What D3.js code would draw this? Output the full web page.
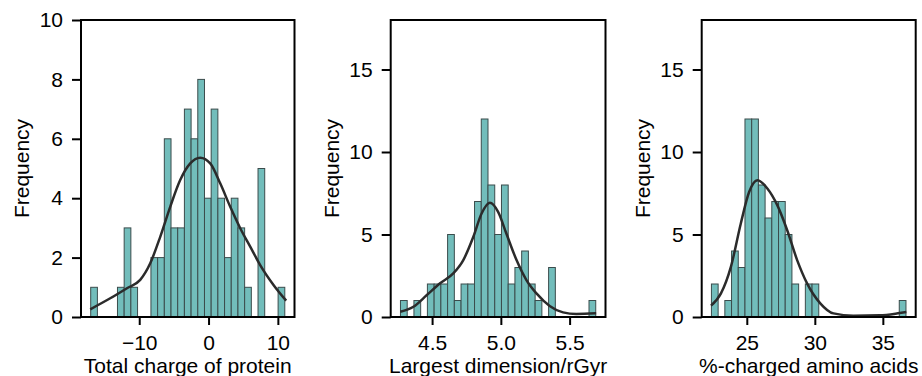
<!DOCTYPE html>
<html>
<head>
<meta charset="utf-8">
<script src="https://cdn.jsdelivr.net/npm/d3@7"></script>
<style>
  body { margin: 0; background: #fff; }
  text { font-family: "Liberation Sans", Arial, sans-serif; fill: #000; }
</style>
</head>
<body>
<div id="chart"></div>
<script>
// histogram counts (29 bins per panel), bins run from lo to hi
const chargeCounts = [1,0,0,0,1,3,1,0,0,2,2,6,3,3,7,6,8,4,7,4,2,4,3,1,0,5,0,0,1]
const chargeRange = [-17, 11]
const dimCounts = [1,0,1,0,2,2,2,5,1,2,2,7,12,8,5,8,2,3,4,2,1,0,3,0,0,0,0,0,1]
const dimRange = [4.27, 5.69]
const pctCounts = [2,0,1,4,3,12,12,8,6,7,7,5,2,0,2,2,0,0,0,0,0,0,0,0,0,0,0,0,1]
const pctRange = [22.4, 36.7]

// kde curves: [x, density scaled to counts]
const chargeKde = [[-17.07,0.26],[-14.18,0.63],[-11.77,0.97],[-9.86,1.25],[-8.41,1.81],[-6.97,2.70],
  [-5.53,3.71],[-4.09,4.61],[-2.64,5.17],[-1.2,5.36],[0.24,5.17],[1.68,4.50],[3.13,3.71],
  [4.57,2.99],[6.01,2.37],[7.45,1.75],[9.37,1.08],[11.2,0.55]]
const dimKde = [[4.268,0.32],[4.364,0.62],[4.462,1.33],[4.558,2.04],[4.654,2.64],[4.727,3.45],
  [4.8,4.86],[4.86,6.27],[4.92,6.92],[4.98,6.37],[5.04,5.06],[5.114,3.45],[5.186,2.24],
  [5.259,1.43],[5.355,0.67],[5.452,0.28],[5.549,0.18],[5.693,0.22]]
const pctKde = [[22.37,0.69],[23.10,1.43],[23.83,3.04],[24.56,5.67],[25.17,7.58],[25.78,8.29],
  [26.51,7.79],[27.24,6.78],[27.97,5.26],[28.70,3.45],[29.43,2.04],[30.40,0.83],[31.37,0.22],
  [32.83,0.08],[34.78,0.10],[36.24,0.24],[36.73,0.30]]

const xLabels = ["Total charge of protein", "Largest dimension/rGyr", "%-charged amino acids"]
const yLabel = "Frequency"
const chargeXTicks = [-10, 0, 10]
const dimXTicks = [4.5, 5.0, 5.5]
const pctXTicks = [25, 30, 35]
const chargeYTicks = [0, 2, 4, 6, 8, 10]
const otherYTicks = [0, 5, 10, 15]

const width = 922
const height = 376
const plotTop = 20
const plotBottom = 317
const fontSize = 21

const panels = [
  {counts: chargeCounts, range: chargeRange, kde: chargeKde, xTicks: chargeXTicks, yTicks: chargeYTicks,
   yMax: 10, left: 81, right: 294.5, xlabel: xLabels[0], fmt: d => d3.format("d")(d).replace("-", "\u2212")},
  {counts: dimCounts, range: dimRange, kde: dimKde, xTicks: dimXTicks, yTicks: otherYTicks,
   yMax: 18, left: 390.7, right: 605.5, xlabel: xLabels[1], fmt: d3.format(".1f")},
  {counts: pctCounts, range: pctRange, kde: pctKde, xTicks: pctXTicks, yTicks: otherYTicks,
   yMax: 18, left: 701.7, right: 915.7, xlabel: xLabels[2], fmt: d3.format("d")}
]

const svg = d3.select("#chart")
    .append("svg")
    .attr("width", width)
    .attr("height", height)

panels.forEach(p => {
  const [lo, hi] = p.range
  const pad = (hi - lo) * 0.05
  const x = d3.scaleLinear().domain([lo - pad, hi + pad]).range([p.left, p.right])
  const y = d3.scaleLinear().domain([0, p.yMax]).range([plotBottom, plotTop])
  const binW = (hi - lo) / p.counts.length

  const g = svg.append("g")

  // bars
  g.selectAll("rect")
    .data(p.counts.map((c, i) => ({x0: lo + i * binW, x1: lo + (i + 1) * binW, c})).filter(d => d.c > 0))
    .join("rect")
      .attr("x", d => x(d.x0))
      .attr("y", d => y(d.c))
      .attr("width", d => x(d.x1) - x(d.x0))
      .attr("height", d => y(0) - y(d.c))
      .attr("fill", "#72bdbb")
      .attr("stroke", "#3b4c4c")
      .attr("stroke-width", 1)

  // kde line
  const line = d3.line()
      .x(d => x(d[0]))
      .y(d => y(d[1]))
      .curve(d3.curveMonotoneX)

  g.append("path")
    .datum(p.kde)
    .attr("d", line)
    .attr("fill", "none")
    .attr("stroke", "#2b2b2b")
    .attr("stroke-width", 2.5)

  // frame
  g.append("rect")
    .attr("x", p.left)
    .attr("y", plotTop)
    .attr("width", p.right - p.left)
    .attr("height", plotBottom - plotTop)
    .attr("fill", "none")
    .attr("stroke", "#000")
    .attr("stroke-width", 2)

  // x axis
  const xAxis = g.append("g")
    .attr("transform", `translate(0,${plotBottom})`)
    .call(d3.axisBottom(x).tickValues(p.xTicks).tickFormat(p.fmt).tickSize(8).tickPadding(10))
  xAxis.select(".domain").remove()
  xAxis.selectAll("line").attr("stroke", "#000").attr("stroke-width", 2)
  xAxis.selectAll("text").style("font-size", fontSize + "px").attr("fill", "#000")

  // y axis
  const yAxis = g.append("g")
    .attr("transform", `translate(${p.left},0)`)
    .call(d3.axisLeft(y).tickValues(p.yTicks).tickSize(9).tickPadding(9))
  yAxis.select(".domain").remove()
  yAxis.selectAll("line").attr("stroke", "#000").attr("stroke-width", 2)
  yAxis.selectAll("text").style("font-size", fontSize + "px").attr("fill", "#000")

  // labels
  g.append("text")
    .attr("x", (p.left + p.right) / 2)
    .attr("y", 373)
    .attr("text-anchor", "middle")
    .style("font-size", fontSize + "px")
    .text(p.xlabel)

  g.append("text")
    .attr("transform", `translate(${p.left - 52},${(plotTop + plotBottom) / 2}) rotate(-90)`)
    .attr("text-anchor", "middle")
    .style("font-size", fontSize + "px")
    .text(yLabel)
})
</script>
</body>
</html>
